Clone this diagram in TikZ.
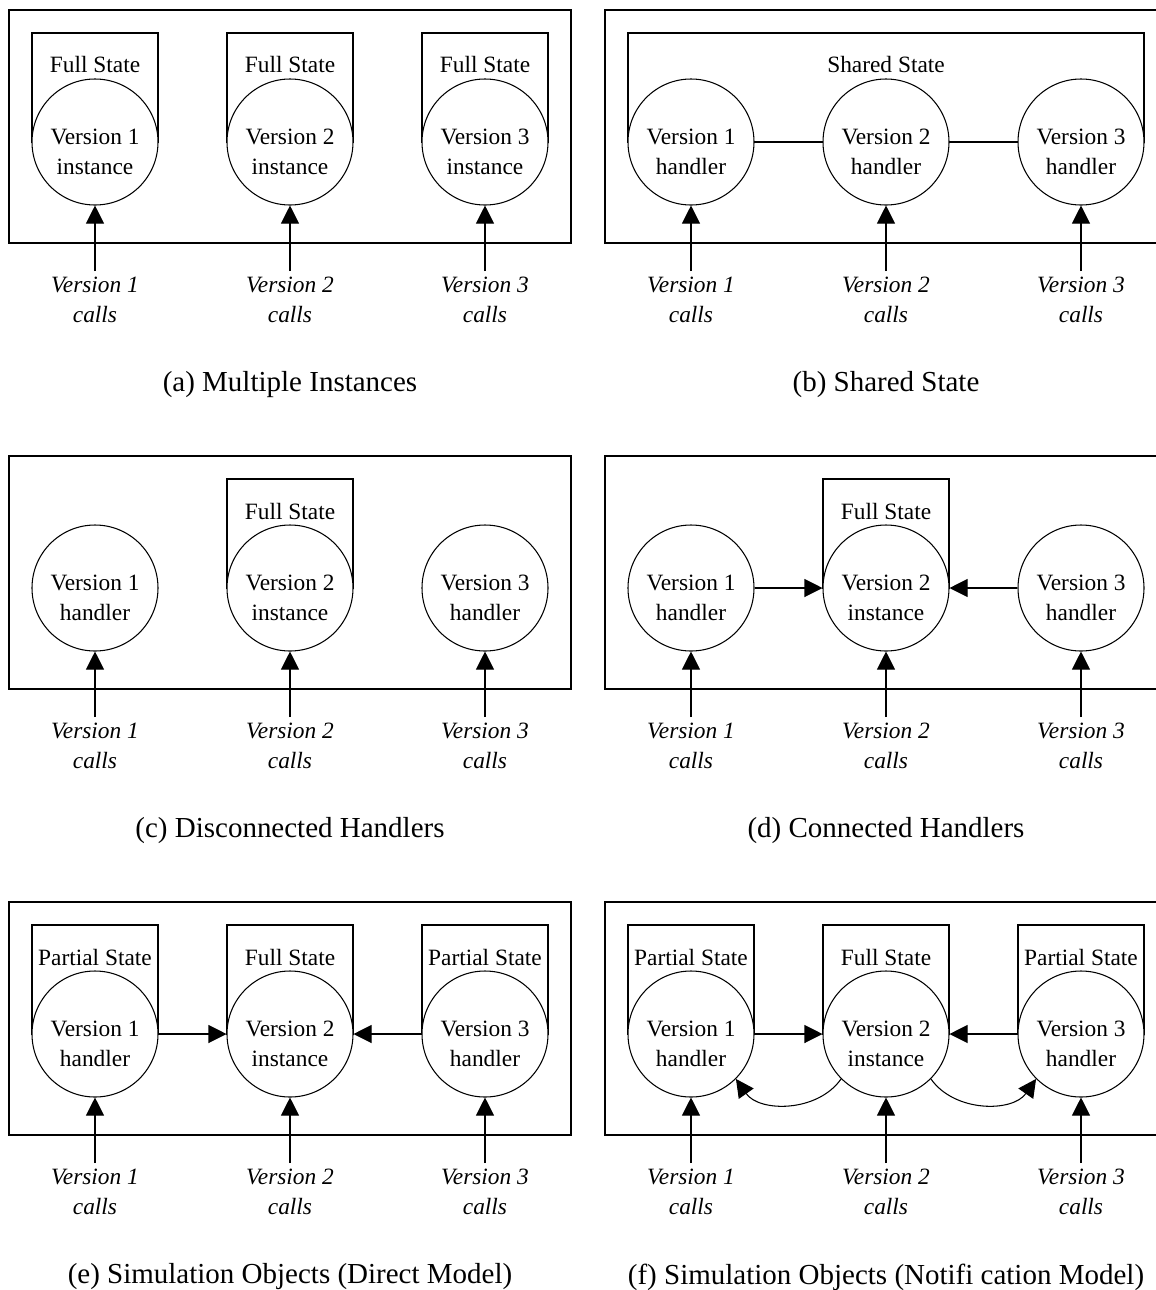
\documentclass[tikz,border=0pt]{standalone}
\usepackage{fontspec}
\setmainfont{Liberation Serif}
\usetikzlibrary{arrows.meta}

\tikzset{
    version/.style={draw, circle, fill=white, minimum size=25.2mm, inner sep=0pt},
    vtext/.style={align=center, font=\fontsize{13.3}{16.8}\selectfont},
    calls/.style={align=center, font=\fontsize{13.3}{16.8}\selectfont\itshape},
    caption/.style={font=\fontsize{16.5}{20}\selectfont},
    tri/.style={-{Triangle[length=3.6mm, width=3.6mm]}},
}

\begin{document}
\begin{tikzpicture}[x=0.2mm, y=-0.2mm, line width=0.6pt]
    \clip (0,0) rectangle (1156,1290);
    % state boxes behind the circles
    \foreach \x/\y/\s in {95/0/Full, 290/0/Full, 485/0/Full, 290/446/Full, 886/446/Full,
        95/892/Partial, 290/892/Full, 485/892/Partial, 691/892/Partial, 886/892/Full, 1081/892/Partial} {
        \draw (\x-63,\y+33) rectangle (\x+63,\y+142);
        \node[vtext] (st\x-\y) at (\x,\y+65) {\s\ State};
    }
    \draw (628,33) rectangle (1144,142);
    \node[vtext] (shared) at (886,65) {Shared State};
    % the six panels
    \foreach \p/\x/\y/\mtext/\stext/\capt in {
        a/0/0/instance/instance/Multiple Instances,
        b/596/0/handler/handler/Shared State,
        c/0/446/instance/handler/Disconnected Handlers,
        d/596/446/instance/handler/Connected Handlers,
        e/0/892/instance/handler/Simulation Objects (Direct Model),
        f/596/892/instance/handler/Simulation Objects (Notifi cation Model)} {
        \begin{scope}[shift={(\x,\y)}]
            \draw (9,10) rectangle (571,243);
            \node[version] (\p1) at (95,142) {};
            \node[version] (\p2) at (290,142) {};
            \node[version] (\p3) at (485,142) {};
            \node[vtext] (\p1t) at (95,152) {Version 1\\\stext};
            \node[vtext] (\p2t) at (290,152) {Version 2\\\mtext};
            \node[vtext] (\p3t) at (485,152) {Version 3\\\stext};
            \node[calls] (\p1c) at (95,300) {Version 1\\calls};
            \node[calls] (\p2c) at (290,300) {Version 2\\calls};
            \node[calls] (\p3c) at (485,300) {Version 3\\calls};
            \draw[tri] (\p1c) -- (\p1);
            \draw[tri] (\p2c) -- (\p2);
            \draw[tri] (\p3c) -- (\p3);
            \node[caption] (\p cap) at (290,385) {(\p) \capt};
        \end{scope}
    }
    % links between handlers
    \draw (b1) -- (b2);
    \draw (b2) -- (b3);
    \draw[tri] (d1) -- (d2);
    \draw[tri] (d3) -- (d2);
    \draw[tri] (e1) -- (e2);
    \draw[tri] (e3) -- (e2);
    \draw[tri] (f1) -- (f2);
    \draw[tri] (f3) -- (f2);
    \draw[tri] (f2.225) to[bend left=55] (f1.-45);
    \draw[tri] (f2.-45) to[bend right=55] (f3.225);
\end{tikzpicture}
\end{document}
